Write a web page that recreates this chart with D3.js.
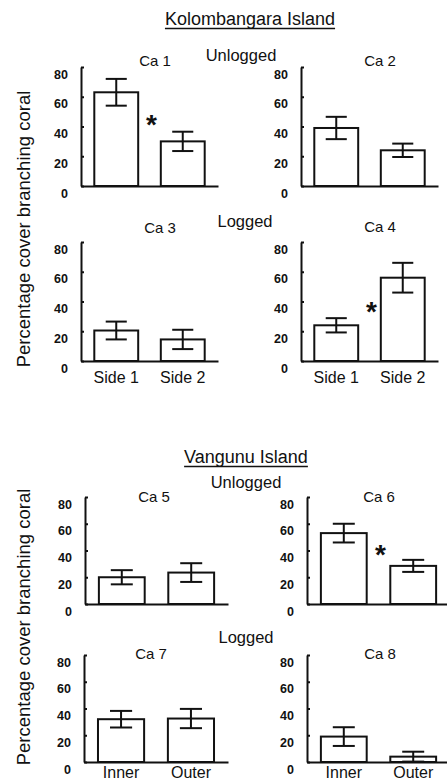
<!DOCTYPE html>
<html>
<head>
<meta charset="utf-8">
<script src="https://cdn.jsdelivr.net/npm/d3@7"></script>
<style>
  body { margin: 0; background: #fff; }
  text { font-family: "Liberation Sans", Arial, sans-serif; fill: #111; }
</style>
</head>
<body>
<svg id="svg" width="447" height="782"></svg>
<script>
// data (mean % cover of branching coral, +/- error)
const sites = ["Ca 1", "Ca 2", "Ca 3", "Ca 4", "Ca 5", "Ca 6", "Ca 7", "Ca 8"];
const kolSides = ["Side 1", "Side 2"];
const vanSides = ["Inner", "Outer"];
const means = [[63, 30], [39, 24], [20.5, 14.5], [24, 56], [20, 23.5], [53, 28.5], [32, 32.5], [19, 4]];
const errs = [[9, 6.5], [7.5, 4.5], [6, 6.5], [4.8, 10], [5.3, 7], [7, 4.5], [6.2, 7.2], [7, 3.7]];
const signif = [true, false, false, true, false, true, false, false];
const yTicks = [0, 20, 40, 60, 80];
const islands = ["Kolombangara Island", "Vangunu Island"];
const yLabel = "Percentage cover branching coral";

const ink = "#111";

// panel boxes (axis extents) and title spots
const layout = [
  {x0: 81, x1: 218, top: 67, bottom: 186, tx: 155, ty: 66},
  {x0: 301, x1: 438, top: 67, bottom: 186, tx: 380, ty: 66},
  {x0: 81, x1: 218, top: 242, bottom: 361, tx: 160, ty: 233},
  {x0: 301, x1: 438, top: 242, bottom: 361, tx: 380, ty: 232},
  {x0: 85, x1: 228, top: 497, bottom: 604, tx: 154, ty: 502},
  {x0: 307, x1: 450, top: 497, bottom: 604, tx: 379, ty: 502},
  {x0: 84, x1: 228, top: 655, bottom: 762, tx: 151, ty: 659},
  {x0: 307, x1: 450, top: 655, bottom: 762, tx: 380, ty: 659}
];

const svg = d3.select("#svg");

function drawPanel(i) {
  const L = layout[i];
  const cats = i < 4 ? kolSides : vanSides;
  const x = d3.scaleBand().domain(cats).range([L.x0, L.x1])
      .paddingInner(0.34).paddingOuter(0.2);
  const y = d3.scaleLinear().domain([0, 80]).range([L.bottom, L.top]);
  const g = svg.append("g");

  const yAxis = g.append("g")
      .attr("transform", `translate(${L.x0},0)`)
      .call(d3.axisLeft(y).tickValues(yTicks).tickSize(-3).tickSizeOuter(0).tickPadding(13));
  yAxis.select(".domain").attr("stroke", ink).attr("stroke-width", 2);
  yAxis.selectAll(".tick line").attr("stroke", ink).attr("stroke-width", 2);
  // the printed numbers sit a little below their ticks
  yAxis.selectAll(".tick text")
      .attr("y", 7)
      .style("font-size", "12.5px").style("font-weight", "bold").attr("fill", ink);

  const xAxis = g.append("g")
      .attr("transform", `translate(0,${L.bottom})`)
      .call(d3.axisBottom(x).tickSize(0).tickSizeOuter(0).tickPadding(i < 4 ? 10.6 : 5));
  xAxis.select(".domain").attr("stroke", ink).attr("stroke-width", 2);
  xAxis.selectAll(".tick text").style("font-size", "16px").attr("fill", ink);
  // only the bottom row carries the side labels
  if (i % 4 < 2) xAxis.selectAll(".tick text").remove();

  const bw = x.bandwidth();
  const rows = cats.map((c, j) => ({c: c, m: means[i][j], e: errs[i][j]}));

  g.selectAll("rect.bar").data(rows).enter().append("rect")
      .attr("class", "bar")
      .attr("x", d => x(d.c))
      .attr("y", d => y(d.m))
      .attr("width", bw)
      .attr("height", d => y(0) - y(d.m))
      .attr("fill", "#fff").attr("stroke", ink).attr("stroke-width", 2);

  const eb = g.selectAll("g.err").data(rows).enter().append("g")
      .attr("class", "err")
      .attr("stroke", ink).attr("stroke-width", 2);
  const capW = bw * 0.48;
  eb.append("line")
      .attr("x1", d => x(d.c) + bw / 2).attr("x2", d => x(d.c) + bw / 2)
      .attr("y1", d => y(Math.max(0, d.m - d.e))).attr("y2", d => y(d.m + d.e));
  eb.append("line")
      .attr("x1", d => x(d.c) + bw / 2 - capW / 2).attr("x2", d => x(d.c) + bw / 2 + capW / 2)
      .attr("y1", d => y(d.m + d.e)).attr("y2", d => y(d.m + d.e));
  eb.append("line")
      .attr("x1", d => x(d.c) + bw / 2 - capW / 2).attr("x2", d => x(d.c) + bw / 2 + capW / 2)
      .attr("y1", d => y(Math.max(0, d.m - d.e))).attr("y2", d => y(Math.max(0, d.m - d.e)));

  if (signif[i]) {
    const lowTop = d3.min(rows, d => d.m + d.e);
    g.append("text")
        .attr("x", (x(cats[0]) + bw + x(cats[1])) / 2 + 2)
        .attr("y", y(lowTop + 9) + 16)
        .attr("text-anchor", "middle")
        .style("font-size", "28px").style("font-weight", "bold")
        .text("*");
  }

  g.append("text")
      .attr("x", L.tx).attr("y", L.ty)
      .attr("text-anchor", "middle")
      .style("font-size", "15px")
      .text(sites[i]);
}

sites.forEach((s, i) => drawPanel(i));

// island headings with underline
const heads = [{x: 250, y: 25}, {x: 246, y: 463}];
islands.forEach((name, k) => {
  const t = svg.append("text")
      .attr("x", heads[k].x).attr("y", heads[k].y)
      .attr("text-anchor", "middle")
      .style("font-size", "18px")
      .text(name);
  const w = t.node().getComputedTextLength();
  svg.append("line")
      .attr("x1", heads[k].x - w / 2).attr("x2", heads[k].x + w / 2)
      .attr("y1", heads[k].y + 3.5).attr("y2", heads[k].y + 3.5)
      .attr("stroke", ink).attr("stroke-width", 1.6);
});

// treatment labels
const treat = [
  {t: "Unlogged", x: 241, y: 61},
  {t: "Logged", x: 245, y: 227},
  {t: "Unlogged", x: 246, y: 488},
  {t: "Logged", x: 246, y: 643}
];
svg.selectAll("text.treat").data(treat).enter().append("text")
    .attr("class", "treat")
    .attr("x", d => d.x).attr("y", d => d.y)
    .attr("text-anchor", "middle")
    .style("font-size", "16.5px")
    .text(d => d.t);

// rotated y labels, one per island
[229, 627].forEach(cy => {
  svg.append("text")
      .attr("transform", `translate(29.5,${cy}) rotate(-90)`)
      .attr("text-anchor", "middle")
      .style("font-size", "18.5px")
      .text(yLabel);
});
</script>
</body>
</html>
